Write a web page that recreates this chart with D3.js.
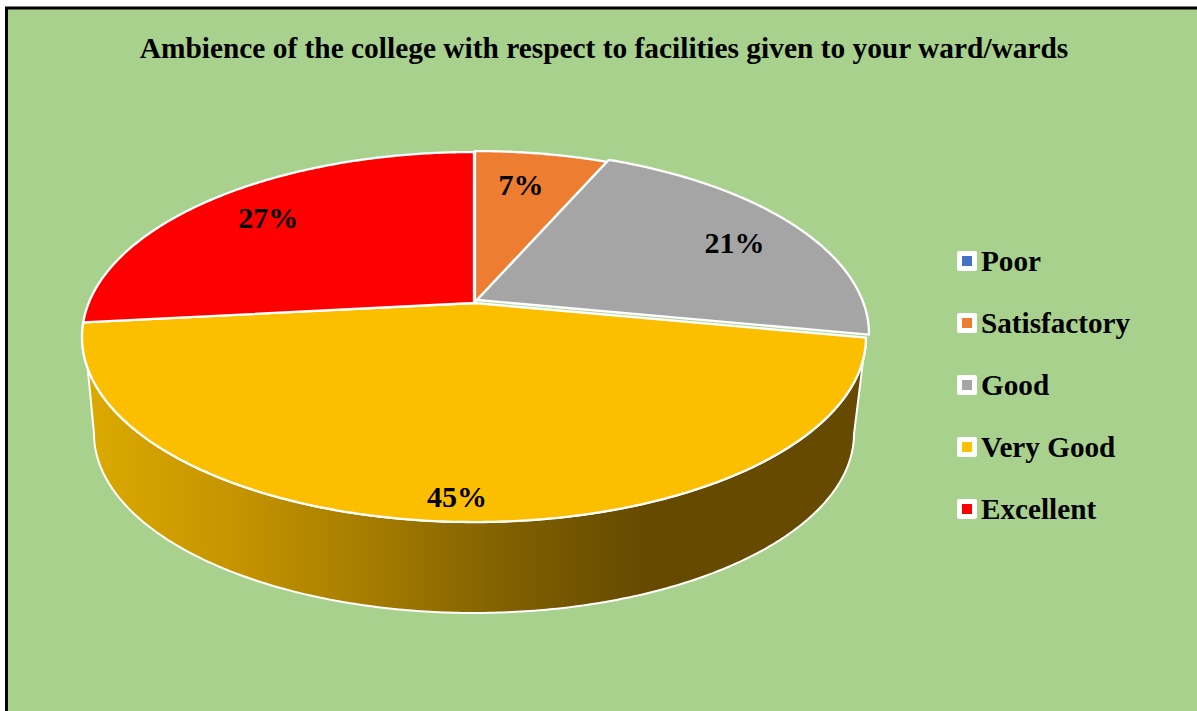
<!DOCTYPE html>
<html><head><meta charset="utf-8">
<script src="https://cdn.jsdelivr.net/npm/d3@7"></script>
<style>html,body{margin:0;padding:0;background:#fff;overflow:hidden}svg{display:block}text{font-family:"Liberation Serif","Times New Roman",serif;font-weight:bold;fill:#000}</style>
</head><body><svg id="c" width="1197" height="711"></svg>
<script>
const titleText = "Ambience of the college with respect to facilities given to your ward/wards";
const categories = ["Poor","Satisfactory","Good","Very Good","Excellent"];
const values = [0,6.55,21.45,45.3,26.7];
const colors = ["#4472c4","#ed7d31","#a5a5a5","#fbbf00","#ff0000"];

const svg = d3.select("#c");
svg.append("rect").attr("x",7).attr("y",8).attr("width",1190).attr("height",703).attr("fill","#a9d18e");
svg.append("path").attr("d","M6.5,711V8H1197").attr("fill","none").attr("stroke","#000").attr("stroke-width",3);

const defs = svg.append("defs");
const g = defs.append("linearGradient").attr("id","wall").attr("gradientUnits","userSpaceOnUse")
  .attr("x1",85).attr("x2",865).attr("y1",0).attr("y2",0);
[[0,"#dcaa00"],[0.2,"#c49300"],[0.38,"#a27a00"],[0.55,"#7f5f00"],[0.72,"#654a00"],[1,"#654a00"]]
  .forEach(([o,c])=>g.append("stop").attr("offset",o).attr("stop-color",c));

// perspective projection of the unit disc
const k = 0.184;
function proj(theta, a, b, x0, y0){
  const u = Math.sin(theta), v = Math.cos(theta), w = 1 + k*v;
  return [x0 + a*u/w, y0 - b*v/w];
}
const top3 = t => proj(t,385.3,178.75,474,303);
const bot3 = t => proj(t,373.5,173.3,474,400.6);

const arcs = d3.pie().sort(null).value(d=>d)(values);
const line = d3.line();

function arcPts(a0,a1,fn){
  const n = Math.max(2,Math.ceil((a1-a0)/0.01));
  return d3.range(n+1).map(i=>fn(a0+(a1-a0)*i/n));
}
// wall under Very Good; the lower rim stops at the silhouette tangent
const vg = arcs[3];
const tangent = 2*Math.PI - Math.acos(-k);
const wallPts = arcPts(vg.startAngle,vg.endAngle,top3)
  .concat(arcPts(vg.startAngle,Math.min(vg.endAngle,tangent),bot3).reverse());
svg.append("path").attr("d",line(wallPts)+"Z").attr("fill","url(#wall)")
  .attr("stroke","#fff").attr("stroke-width",2).attr("stroke-linejoin","round");

// top faces, each slightly pulled apart
const sliceNudge = [[0,0],[1,-1],[3,-3],[0,0],[0,0]];
arcs.forEach((d,i)=>{
  if(d.endAngle-d.startAngle<=0) return;
  const pts=[[474,303]].concat(arcPts(d.startAngle,d.endAngle,top3));
  svg.append("path").attr("d",line(pts)+"Z").attr("fill",colors[i])
    .attr("transform",`translate(${sliceNudge[i][0]},${sliceNudge[i][1]})`)
    .attr("stroke","#fff").attr("stroke-width",2.3).attr("stroke-linejoin","round");
});

// data labels, moved by hand in the original
const fmt = d3.format(".0%"), total = d3.sum(values);
const labelR = [0,0.78,0.68,0.72,0.72];
const labelNudge = [[0,0],[-5,-3],[47,-8],[-3,36],[-22,-9]];
arcs.forEach((d,i)=>{
  if(!values[i]) return;
  const mid=(d.startAngle+d.endAngle)/2;
  const p=proj(mid,385.3*labelR[i],178.75*labelR[i],474,303);
  svg.append("text").attr("x",p[0]+labelNudge[i][0]).attr("y",p[1]+labelNudge[i][1]).attr("text-anchor","middle").attr("dominant-baseline","central")
    .attr("font-size",30).text(fmt(values[i]/total));
});

svg.append("text").attr("x",604).attr("y",58).attr("text-anchor","middle").attr("font-size",29.4).text(titleText);

const ly = d3.scalePoint().domain(categories).range([261,509]);
categories.forEach((c,i)=>{
  const y=ly(c);
  svg.append("rect").attr("x",957).attr("y",y-10).attr("width",20).attr("height",20).attr("rx",2).attr("fill","#fff");
  svg.append("rect").attr("x",962).attr("y",y-5).attr("width",10).attr("height",10).attr("fill",colors[i]==="#fbbf00"?"#ffc000":colors[i]);
  svg.append("text").attr("x",981).attr("y",y+10).attr("font-size",29.2).text(c);
});
</script></body></html>
